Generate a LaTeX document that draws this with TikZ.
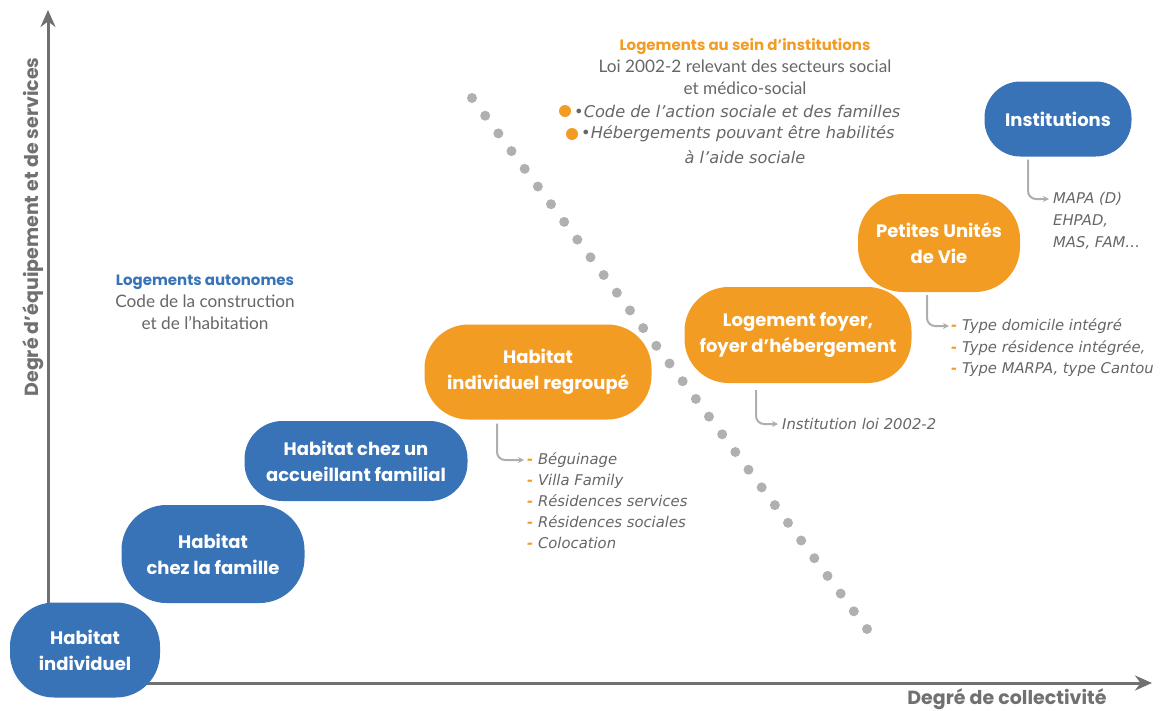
\documentclass[tikz,border=0pt]{standalone}
\usepackage{fontspec}
\setmainfont{Lato}
\newfontfamily\popfont{Poppins}
\newfontfamily\itfont{DejaVu Sans}
\usetikzlibrary{arrows.meta}
\definecolor{cblue}{HTML}{3873B8}
\definecolor{corange}{HTML}{F39C24}
\definecolor{ctext}{HTML}{666666}
\definecolor{caxis}{HTML}{707070}
\definecolor{cdot}{HTML}{B0B0B2}
\definecolor{cconn}{HTML}{AEAEAE}
\tikzset{
  blob/.style={fill=#1, text=white, align=center, inner sep=0pt,
    font=\popfont\bfseries\fontsize{18}{26}\selectfont},
  axis/.style={draw=caxis, line width=3pt, -{Stealth[length=17pt,width=15pt]}},
  axlabel/.style={text=caxis, font=\popfont\bfseries\fontsize{19}{22}\selectfont},
  body/.style={text=ctext, align=center, font=\fontsize{17.2}{22}\selectfont},
  item/.style={text=ctext, anchor=west, inner sep=0pt, font=\itfont\itshape\fontsize{14.8}{20.7}\selectfont},
  bitem/.style={item, font=\itfont\itshape\fontsize{16.2}{22}\selectfont},
  conn/.style={draw=cconn, line width=2pt, rounded corners=8pt, -{Stealth[length=6pt,width=6pt]}},
}
\newcommand{\hd}[2]{{\color{#1}\popfont\bfseries\fontsize{15}{22}\selectfont #2}}
\newcommand{\dsh}{{\color{corange}\bfseries -}\ }
\begin{document}
\begin{tikzpicture}[x=1pt,y=-1pt]
\useasboundingbox (0,0) rectangle (1160,710);
% axes
\coordinate (O) at (48,683);
\coordinate (ytip) at (48,10);
\coordinate (xtip) at (1152,683);
\draw[axis] (O) -- (ytip);
\draw[axis] (O) -- (xtip);
\node[axlabel, rotate=90] (ylab) at (33,227) {Degré d’équipement et de services};
\node[axlabel] (xlab) at (1007,699) {Degré de collectivité};
% dotted separator
\foreach \i in {0,...,30}
  \fill[cdot] ({472+13.1667*\i},{98+17.7*\i}) circle (5pt);
% nodes
\node[blob=cblue, minimum width=150pt, minimum height=95pt, rounded corners=44pt] (hi) at (85,650) {Habitat\\individuel};
\node[blob=cblue, minimum width=183pt, minimum height=98pt, rounded corners=45pt] (hf) at (213,554) {Habitat\\chez la famille};
\node[blob=cblue, minimum width=223pt, minimum height=80pt, rounded corners=38pt] (ha) at (356,461) {Habitat chez un\\accueillant familial};
\node[blob=corange, minimum width=227pt, minimum height=95pt, rounded corners=44pt] (hr) at (538,372) {Habitat\\individuel regroupé};
\node[blob=corange, minimum width=227pt, minimum height=96pt, rounded corners=44pt] (lf) at (798,335) {Logement foyer,\\foyer d’hébergement};
\node[blob=corange, minimum width=162pt, minimum height=98pt, rounded corners=45pt] (pu) at (939,243) {Petites Unités\\de Vie};
\node[blob=cblue, minimum width=147pt, minimum height=75pt, rounded corners=36pt] (in) at (1058,119) {Institutions};
% text blocks
\node[body] (auto) at (205,302) {\hd{cblue}{Logements autonomes}\\Code de la construction\\et de l’habitation};
\node[body] (inst1) at (745,67) {\hd{corange}{Logements au sein d’institutions}\\Loi 2002-2 relevant des secteurs social\\et médico-social};
\fill[corange] (565,111) circle (6pt);
\fill[corange] (572,134) circle (6pt);
\node[bitem] (b1) at (574,111) {{\upshape\textbullet}Code de l’action sociale et des familles};
\node[bitem] (b2) at (581,134) {{\upshape\textbullet}Hébergements pouvant être habilités};
\node[bitem, anchor=center] (b3) at (745,157) {à l’aide sociale};
% lists
\node[item] (m1) at (1053,199) {MAPA (D)};
\node[item] (m2) at (1053,221) {EHPAD,};
\node[item] (m3) at (1053,243) {MAS, FAM…};
\draw[conn] ([xshift=-30pt,yshift=-3pt]in.south) |- ([xshift=-4pt]m1.west);

\node[item] (p1) at (951,326) {\dsh Type domicile intégré};
\node[item] (p2) at (951,348) {\dsh Type résidence intégrée,};
\node[item] (p3) at (951,370) {\dsh Type MARPA, type Cantou};
\draw[conn] ([xshift=-12pt,yshift=-3pt]pu.south) |- ([xshift=-2pt]p1.west);

\node[item] (l1) at (782,424) {Institution loi 2002-2};
\draw[conn] ([xshift=-42pt,yshift=-7pt]lf.south) |- ([xshift=-4pt]l1.west);

\node[item] (r1) at (527,460) {\dsh Béguinage};
\node[item] (r2) at (527,481) {\dsh Villa Family};
\node[item] (r3) at (527,501) {\dsh Résidences services};
\node[item] (r4) at (527,522) {\dsh Résidences sociales};
\node[item] (r5) at (527,543) {\dsh Colocation};
\draw[conn] ([xshift=-41pt,yshift=-4pt]hr.south) |- ([xshift=-3pt]r1.west);
\end{tikzpicture}
\end{document}
